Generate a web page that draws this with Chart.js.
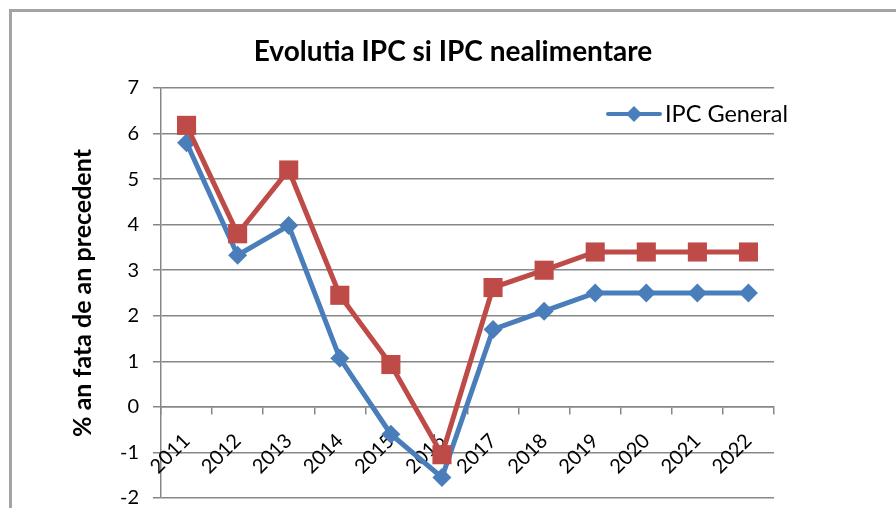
<!DOCTYPE html>
<html>
<head>
<meta charset="utf-8">
<script src="https://cdn.jsdelivr.net/npm/chart.js@4/dist/chart.umd.min.js"></script>
<style>
  html, body { margin: 0; padding: 0; background: #fff; overflow: hidden; width: 896px; height: 508px; }
  #frame { position: absolute; left: 9px; top: 9px; width: 920px; height: 540px;
           border-left: 3px solid #a3a3a3; border-top: 3px solid #a3a3a3; }
  #chart { position: absolute; left: 0; top: 0; }
</style>
</head>
<body>
<div id="frame"></div>
<canvas id="chart" width="896" height="524"></canvas>
<script>
const years = ["2011", "2012", "2013", "2014", "2015", "2016", "2017", "2018", "2019", "2020", "2021", "2022"];
const ipcGeneral = [5.8, 3.33, 3.98, 1.07, -0.6, -1.55, 1.7, 2.1, 2.5, 2.5, 2.5, 2.5];
const ipcNealimentare = [6.18, 3.8, 5.2, 2.45, 0.93, -1.05, 2.62, 3.0, 3.4, 3.4, 3.4, 3.4];

const BLUE = "#4a7ebb";
const RED = "#be4b48";
const GRID = "#878787";
const FONT = "Lato, 'Open Sans', sans-serif";

// legend only shows the first series, like the original
const legendPlugin = {
  id: "ipcLegend",
  afterDraw(chart) {
    const ctx = chart.ctx;
    const y = 114;
    ctx.save();
    ctx.strokeStyle = BLUE;
    ctx.lineWidth = 4;
    ctx.lineCap = "round";
    ctx.beginPath();
    ctx.moveTo(608, y);
    ctx.lineTo(660, y);
    ctx.stroke();
    ctx.fillStyle = BLUE;
    ctx.beginPath();
    ctx.moveTo(634 - 8, y);
    ctx.lineTo(634, y - 8);
    ctx.lineTo(634 + 8, y);
    ctx.lineTo(634, y + 8);
    ctx.closePath();
    ctx.fill();
    ctx.fillStyle = "#000";
    ctx.font = "23.5px " + FONT;
    ctx.textBaseline = "middle";
    ctx.fillText("IPC General", 665, y);
    ctx.restore();
  }
};

new Chart(document.getElementById("chart"), {
  type: "line",
  data: {
    labels: years,
    datasets: [
      {
        label: "IPC General",
        data: ipcGeneral,
        borderColor: BLUE,
        backgroundColor: BLUE,
        borderWidth: 5,
        pointStyle: "rectRot",
        pointRadius: 9.5,
        pointBorderWidth: 0,
        tension: 0,
        order: 1,
      },
      {
        label: "IPC nealimentare",
        data: ipcNealimentare,
        borderColor: RED,
        backgroundColor: RED,
        borderWidth: 5,
        pointStyle: "rect",
        pointRadius: 13.5,
        pointBorderWidth: 0,
        tension: 0,
        order: 0,
      },
    ],
  },
  options: {
    responsive: false,
    animation: false,
    clip: false,
    layout: { padding: { left: 10, right: 0, bottom: 11, top: 0 } },
    plugins: {
      legend: { display: false },
      tooltip: { enabled: false },
      title: {
        display: true,
        // zero-width non-joiner keeps "ti" from becoming a ligature
        text: "Evolu\u200Ctia IPC si IPC nealimentare",
        color: "#000",
        font: { family: FONT, size: 28, weight: "bold" },
        padding: { top: 35, bottom: 19.4 },
      },
    },
    scales: {
      y: {
        min: -2,
        max: 7,
        ticks: {
          stepSize: 1,
          color: "#000",
          font: { family: FONT, size: 20 },
          padding: 14,
        },
        grid: { color: GRID, lineWidth: 1.5, tickLength: 8 },
        border: { color: GRID, width: 1.5 },
        title: {
          display: true,
          text: "% an fata de an precedent",
          color: "#000",
          font: { family: FONT, size: 25, weight: "bold" },
          padding: { top: 58, bottom: 0 },
        },
        afterFit(scale) { scale.width = 151; },
      },
      // empty right axis just reserves the blank space beside the plot
      spacer: {
        type: "linear",
        position: "right",
        min: -2,
        max: 7,
        grid: { display: false },
        border: { display: false },
        ticks: { display: false },
        afterFit(scale) { scale.width = 122; },
      },
      x: {
        position: { y: 0 },
        offset: true,
        ticks: {
          color: "#000",
          font: { family: FONT, size: 20 },
          minRotation: 45,
          maxRotation: 45,
          autoSkip: false,
          padding: 15,
        },
        grid: { drawOnChartArea: false, offset: true, color: GRID, lineWidth: 1.5, tickLength: 7 },
        border: { color: GRID, width: 1.5 },
      },
    },
  },
  plugins: [legendPlugin],
});
</script>
</body>
</html>
